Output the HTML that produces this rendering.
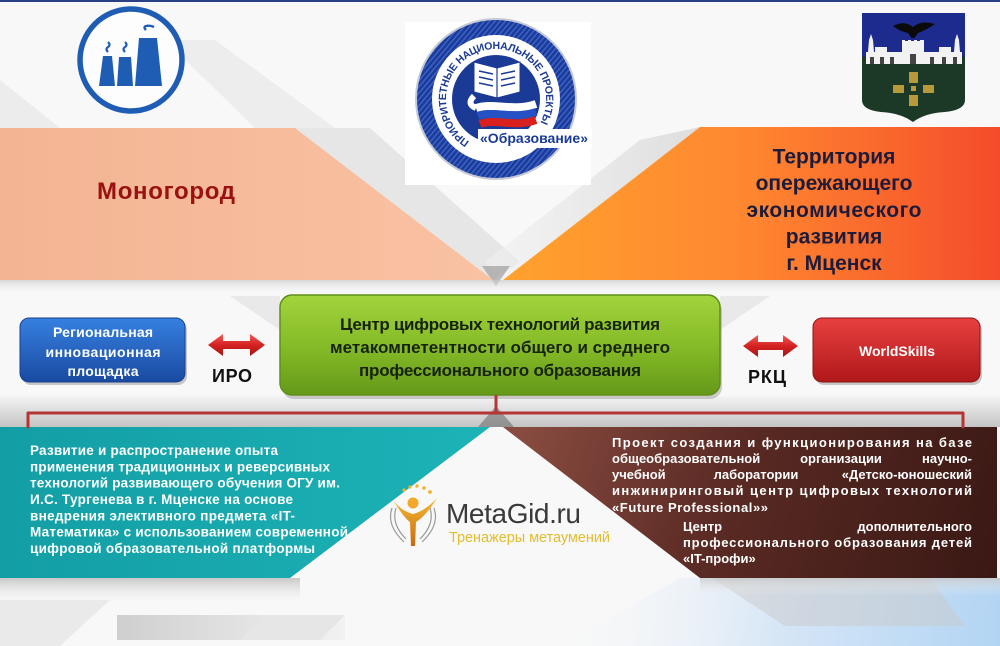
<!DOCTYPE html>
<html><head><meta charset="utf-8">
<style>
html,body{margin:0;padding:0;width:1000px;height:646px;overflow:hidden;background:#f7f7f7}
svg{display:block}
text{font-family:"Liberation Sans","DejaVu Sans",sans-serif}
</style></head><body>
<svg width="1000" height="646" viewBox="0 0 1000 646" xmlns="http://www.w3.org/2000/svg">
<defs>
<linearGradient id="peach" x1="0" y1="0" x2="1" y2="0"><stop offset="0" stop-color="#f3b493"/><stop offset="1" stop-color="#f9c2a3"/></linearGradient>
<linearGradient id="orange" x1="503" y1="0" x2="1000" y2="0" gradientUnits="userSpaceOnUse"><stop offset="0" stop-color="#ffa22e"/><stop offset="0.5" stop-color="#ff8630"/><stop offset="1" stop-color="#f44c2a"/></linearGradient>
<linearGradient id="teal" x1="0" y1="0" x2="1" y2="0"><stop offset="0" stop-color="#139ea5"/><stop offset="1" stop-color="#1cb3b7"/></linearGradient>
<linearGradient id="brown" x1="503" y1="427" x2="997" y2="578" gradientUnits="userSpaceOnUse"><stop offset="0" stop-color="#8c4e42"/><stop offset="0.45" stop-color="#5a2a24"/><stop offset="1" stop-color="#3a1814"/></linearGradient>
<linearGradient id="green" x1="0" y1="0" x2="0" y2="1"><stop offset="0" stop-color="#a2d43c"/><stop offset="0.5" stop-color="#86bc28"/><stop offset="1" stop-color="#659919"/></linearGradient>
<linearGradient id="blueb" x1="0" y1="0" x2="0" y2="1"><stop offset="0" stop-color="#3680e0"/><stop offset="1" stop-color="#1a4aa2"/></linearGradient>
<linearGradient id="redb" x1="0" y1="0" x2="0" y2="1"><stop offset="0" stop-color="#e84040"/><stop offset="1" stop-color="#b0181a"/></linearGradient>
<linearGradient id="arr" x1="0" y1="0" x2="0" y2="1"><stop offset="0" stop-color="#f25a5a"/><stop offset="0.5" stop-color="#d42222"/><stop offset="1" stop-color="#a81414"/></linearGradient>
<linearGradient id="gv" x1="0" y1="0" x2="0" y2="1"><stop offset="0" stop-color="#f4f4f4"/><stop offset="1" stop-color="#c4c4c4"/></linearGradient>
<linearGradient id="gv2" x1="0" y1="0" x2="0" y2="1"><stop offset="0" stop-color="#c8c8c8"/><stop offset="1" stop-color="#f4f4f4" stop-opacity="0"/></linearGradient>
<linearGradient id="gh" x1="0" y1="0" x2="1" y2="0"><stop offset="0" stop-color="#cfcfcf"/><stop offset="1" stop-color="#f2f2f2"/></linearGradient>
<linearGradient id="gd" x1="0" y1="0" x2="1" y2="0"><stop offset="0" stop-color="#f2f2f2"/><stop offset="1" stop-color="#cdcdcd"/></linearGradient>
<linearGradient id="lblue" x1="560" y1="600" x2="1000" y2="646" gradientUnits="userSpaceOnUse"><stop offset="0" stop-color="#f4f6f8" stop-opacity="0"/><stop offset="0.5" stop-color="#d6e6f6"/><stop offset="1" stop-color="#b2d4f4"/></linearGradient>
<linearGradient id="gold" x1="0" y1="0" x2="0" y2="1"><stop offset="0" stop-color="#f6b830"/><stop offset="1" stop-color="#c86a10"/></linearGradient>
<pattern id="stripes" width="4" height="4" patternUnits="userSpaceOnUse" patternTransform="rotate(40)"><rect width="4" height="4" fill="#1b3b9a"/><rect width="1.5" height="4" fill="#3d62c4"/></pattern>
</defs>

<!-- background -->
<rect width="1000" height="646" fill="#f8f8f8"/>
<rect width="1000" height="2" fill="#2b3f86"/>
<polygon points="165,40 215,40 335,128 255,128" fill="#e6e6e6" opacity="0.6"/>
<polygon points="0,80 60,128 0,128" fill="#e4e4e4" opacity="0.6"/>
<polygon points="295,128 370,128 520,262 493,280" fill="#dadada" opacity="0.6"/>
<polygon points="640,140 700,127 503,280 485,262" fill="url(#gd)" opacity="0.6"/>
<polygon points="482,266 510,266 496,286" fill="#8a8a8a" opacity="0.55"/>
<!-- middle band shading -->
<rect x="0" y="280" width="1000" height="14" fill="url(#gv2)" opacity="0.7"/>
<rect x="0" y="396" width="1000" height="31" fill="url(#gv)"/>
<polygon points="478,427 514,427 496,406" fill="#6e6e6e" opacity="0.6"/>
<polygon points="230,296 280,296 280,330" fill="#e0e0e0" opacity="0.6"/>
<polygon points="720,296 770,296 720,330" fill="#e0e0e0" opacity="0.6"/>
<!-- bottom shading -->
<rect x="0" y="578" width="300" height="26" fill="url(#gv2)"/>
<polygon points="0,600 110,600 60,646 0,646" fill="#e4e4e4" opacity="0.7"/>
<rect x="117" y="615" width="228" height="25" fill="url(#gh)"/>
<polygon points="265,615 345,615 320,640 240,640" fill="#e6e6e6"/>
<polygon points="560,646 680,578 1000,578 1000,646" fill="url(#lblue)"/>
<polygon points="712,578 930,578 965,626 785,626" fill="#c9c9c9" opacity="0.5"/>
<rect x="700" y="578" width="300" height="18" fill="url(#gv2)" opacity="0.8"/>

<!-- bands -->
<polygon points="0,128 295,128 493,280 0,280" fill="url(#peach)"/>
<polygon points="700,127 1000,127 1000,280 503,280" fill="url(#orange)"/>
<polygon points="0,427 490,427 290,578 0,578" fill="url(#teal)"/>
<polygon points="503,427 997,427 997,578 700,578" fill="url(#brown)"/>

<!-- factory icon -->
<circle cx="131" cy="60" r="51" fill="#fdfdfd" stroke="#1f5db5" stroke-width="5.5"/>
<polygon points="99,86 103,56 112,56 115,86" fill="#1f5db5"/>
<polygon points="117,86 119,57 131,57 133,86" fill="#1f5db5"/>
<polygon points="135,86 139,38 157,38 162,86" fill="#1f5db5"/>
<path d="M108,52 q-3,-3 0,-5 q3,-2 0,-5" fill="none" stroke="#1f5db5" stroke-width="2.2"/>
<path d="M125,52 q-3,-3 0,-5 q3,-2 0,-5" fill="none" stroke="#1f5db5" stroke-width="2.2"/>
<path d="M146,30 q-3,-3 0,-4 q4,-1 8,1" fill="none" stroke="#1f5db5" stroke-width="2.4"/>

<!-- education logo -->
<rect x="405" y="22" width="186" height="163" fill="#ffffff"/>
<circle cx="496" cy="99" r="81" fill="#c4c9d4"/>
<circle cx="496" cy="99" r="79" fill="url(#stripes)"/>
<circle cx="496" cy="99" r="64" fill="#ffffff"/>
<circle cx="496" cy="99" r="44" fill="#1b3a96"/>
<path id="arcp" d="M469.5,141.4 A50,50 0 1 1 537,127.7" fill="none"/>
<text font-size="10.5" font-weight="bold" fill="#1b3a96" textLength="232"><textPath href="#arcp">ПРИОРИТЕТНЫЕ НАЦИОНАЛЬНЫЕ ПРОЕКТЫ</textPath></text>
<path d="M474,62 L497,68 L520,62 L520,92 L497,98 L474,92 Z" fill="#ffffff" stroke="#1b3a96" stroke-width="1"/>
<line x1="497" y1="68" x2="497" y2="98" stroke="#1b3a96" stroke-width="1.2"/>
<g stroke="#1b3a96" stroke-width="1.5">
<line x1="479" y1="71" x2="493" y2="74"/><line x1="479" y1="77" x2="493" y2="80"/><line x1="479" y1="83" x2="493" y2="86"/>
<line x1="501" y1="74" x2="515" y2="71"/><line x1="501" y1="80" x2="515" y2="77"/><line x1="501" y1="86" x2="515" y2="83"/>
</g>
<path d="M474,96 Q466,104 476,108" fill="none" stroke="#ffffff" stroke-width="6"/>
<path d="M476,108 C494,102 512,112 536,104" fill="none" stroke="#ffffff" stroke-width="8"/>
<path d="M478,116 C495,110 513,120 536,112" fill="none" stroke="#2452c4" stroke-width="8"/>
<path d="M480,124 C496,118 514,128 536,120" fill="none" stroke="#d8201e" stroke-width="8"/>
<rect x="478" y="129" width="114" height="19" fill="#ffffff"/>
<text x="480" y="143" font-size="14" font-weight="bold" fill="#1b3a96" textLength="108">«Образование»</text>

<!-- coat of arms -->
<path d="M862,13 L965,13 L965,100 Q965,110 945,112 Q925,113 913,122 Q901,113 881,112 Q862,110 862,100 Z" fill="#1c3826"/>
<rect x="862" y="13" width="103" height="44" fill="#1d2b8e"/>
<path d="M893,26 Q905,20 913,27 Q921,20 935,24 Q926,30 918,33 L913,40 L908,33 Q899,31 893,26 Z" fill="#0a0a0a"/>
<rect x="866" y="52" width="96" height="12" fill="#f2f2f2"/>
<rect x="902" y="40" width="22" height="24" fill="#f2f2f2"/>
<rect x="875" y="47" width="12" height="17" fill="#f2f2f2"/>
<rect x="939" y="47" width="12" height="17" fill="#f2f2f2"/>
<polygon points="867,64 869,40 871,34 873,40 875,64" fill="#f2f2f2"/>
<polygon points="953,64 955,40 957,34 959,40 961,64" fill="#f2f2f2"/>
<g fill="#1d2b8e"><rect x="905" y="38" width="3" height="3"/><rect x="911" y="38" width="3" height="3"/><rect x="917" y="38" width="3" height="3"/></g>
<g fill="#444"><rect x="870" y="57" width="4" height="7"/><rect x="880" y="57" width="4" height="7"/><rect x="890" y="57" width="4" height="7"/><rect x="910" y="54" width="6" height="10"/><rect x="930" y="57" width="4" height="7"/><rect x="942" y="57" width="4" height="7"/><rect x="953" y="57" width="4" height="7"/></g>
<g fill="#b89a3a"><rect x="909" y="72" width="9" height="11"/><rect x="909" y="95" width="9" height="11"/><rect x="893" y="85" width="11" height="8"/><rect x="923" y="85" width="11" height="8"/><rect x="911" y="86" width="5" height="5"/></g>

<!-- band texts -->
<text x="97" y="199" font-size="24" font-weight="bold" fill="#9a1111" textLength="138">Моногород</text>
<g font-size="21" font-weight="bold" fill="#1c1c3a" text-anchor="middle">
<text x="834" y="163.5">Территория</text>
<text x="834" y="190">опережающего</text>
<text x="834" y="217" textLength="175">экономического</text>
<text x="834" y="243.5">развития</text>
<text x="834" y="270">г. Мценск</text>
</g>

<!-- green center box -->
<rect x="282" y="299" width="440" height="100" rx="12" fill="#000" opacity="0.18"/>
<rect x="280" y="295" width="440" height="100" rx="12" fill="url(#green)" stroke="#5f8f18" stroke-width="1.5"/>
<g font-size="17" font-weight="bold" fill="#17220d" text-anchor="middle">
<text x="500" y="330" textLength="320">Центр цифровых технологий развития</text>
<text x="500" y="353" textLength="340">метакомпетентности общего и среднего</text>
<text x="500" y="376" textLength="282">профессионального образования</text>
</g>

<!-- blue box -->
<rect x="22" y="321" width="165" height="64" rx="9" fill="#000" opacity="0.2"/>
<rect x="20" y="318" width="165" height="64" rx="9" fill="url(#blueb)" stroke="#17418e" stroke-width="1"/>
<g font-size="14" font-weight="bold" fill="#ffffff" text-anchor="middle">
<text x="103" y="337" textLength="100">Региональная</text>
<text x="103" y="357" textLength="115">инновационная</text>
<text x="103" y="376" textLength="71">площадка</text>
</g>

<!-- WorldSkills box -->
<rect x="815" y="321" width="167" height="64" rx="9" fill="#000" opacity="0.2"/>
<rect x="813" y="318" width="167" height="64" rx="9" fill="url(#redb)" stroke="#8e1414" stroke-width="1"/>
<text x="897" y="356" font-size="14" font-weight="bold" fill="#ffffff" text-anchor="middle" textLength="76">WorldSkills</text>

<!-- arrows -->
<polygon points="208,345 223,334 223,341 250,341 250,334 265,345 250,356 250,349 223,349 223,356" fill="url(#arr)"/>
<polygon points="743,346 758,335 758,342 783,342 783,335 798,346 783,357 783,350 758,350 758,357" fill="url(#arr)"/>
<text x="232" y="382" font-size="18" font-weight="bold" fill="#111" text-anchor="middle" textLength="40">ИРО</text>
<text x="767" y="383" font-size="18" font-weight="bold" fill="#111" text-anchor="middle" textLength="38">РКЦ</text>

<!-- bracket -->
<path d="M28,427 V413 H963 V427" fill="none" stroke="#b53434" stroke-width="3" stroke-linejoin="round" stroke-linecap="round"/>
<line x1="496" y1="395" x2="496" y2="413" stroke="#b53434" stroke-width="3"/>

<!-- teal text -->
<g font-size="13.5" font-weight="bold" fill="#ffffff">
<text x="30" y="455" textLength="248">Развитие и распространение опыта</text>
<text x="30" y="471.3" textLength="300">применения традиционных и реверсивных</text>
<text x="30" y="487.7" textLength="310">технологий развивающего обучения ОГУ им.</text>
<text x="30" y="504" textLength="263">И.С. Тургенева в г. Мценске на основе</text>
<text x="30" y="520.3" textLength="265">внедрения элективного предмета «IT-</text>
<text x="30" y="536.7" textLength="318">Математика» с использованием современной</text>
<text x="30" y="553" textLength="285">цифровой образовательной платформы</text>
</g>

<!-- brown text -->
<g font-size="13" font-weight="bold" fill="#ffffff">
<text x="612" y="447" textLength="360">Проект создания и функционирования на базе</text>
<text x="612" y="463">общеобразовательной</text>
<text x="841" y="463" text-anchor="middle">организации</text>
<text x="972" y="463" text-anchor="end">научно-</text>
<text x="612" y="479">учебной</text>
<text x="756" y="479" text-anchor="middle">лаборатории</text>
<text x="972" y="479" text-anchor="end">«Детско-юношеский</text>
<text x="612" y="495" textLength="360">инжиниринговый центр цифровых технологий</text>
<text x="612" y="512" textLength="156">«Future Professional»»</text>
<text x="683" y="531">Центр</text>
<text x="972" y="531" text-anchor="end">дополнительного</text>
<text x="683" y="547" textLength="289">профессионального образования детей</text>
<text x="683" y="563">«IT-профи»</text>
</g>

<!-- MetaGid logo -->
<path d="M392,508 Q386,525 404,542" fill="none" stroke="#9a9a9a" stroke-width="1.2"/>
<path d="M396,508 Q391,524 406,539" fill="none" stroke="#9a9a9a" stroke-width="1.2"/>
<path d="M434,508 Q440,525 422,542" fill="none" stroke="#9a9a9a" stroke-width="1.2"/>
<path d="M430,508 Q435,524 420,539" fill="none" stroke="#9a9a9a" stroke-width="1.2"/>
<g fill="#f0b428"><circle cx="404" cy="490" r="1.6"/><circle cx="410" cy="487" r="1.6"/><circle cx="417" cy="486" r="1.7"/><circle cx="424" cy="488" r="1.8"/><circle cx="430" cy="492" r="1.9"/></g>
<circle cx="413" cy="503" r="5.5" fill="#f2a82a"/>
<path d="M393,500 Q404,518 410,522 L411,546 L415,546 L416,522 Q426,516 437,498 Q425,511 413,514 Q401,511 393,500 Z" fill="url(#gold)"/>
<text x="446" y="523" font-size="28" fill="#3a3a3a" textLength="135">MetaGid.ru</text>
<text x="449" y="542" font-size="14.5" fill="#e3bd2c" textLength="161">Тренажеры метаумений</text>
</svg>
</body></html>
